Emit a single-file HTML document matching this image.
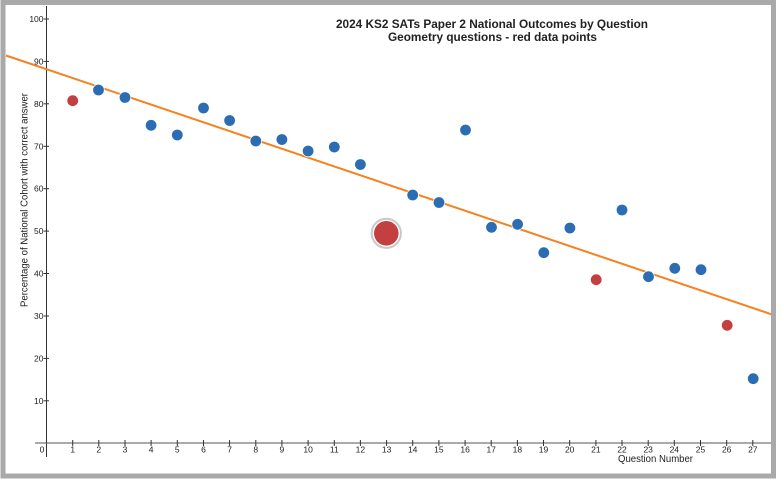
<!DOCTYPE html>
<html>
<head>
<meta charset="utf-8">
<style>
  html,body{margin:0;padding:0;background:#fff;}
  svg{display:block;}
  text{font-family:"Liberation Sans",Arial,sans-serif;fill:#222;}
</style>
</head>
<body>
<svg width="782" height="482" viewBox="0 0 782 482" xmlns="http://www.w3.org/2000/svg">
  <rect x="0" y="0" width="782" height="482" fill="#fff"/>
  <!-- frame -->
  <rect x="3" y="2.5" width="770.5" height="473.5" fill="#fff" stroke="#a9a9a9" stroke-width="5"/>

  <!-- title -->
  <text x="492" y="28" text-anchor="middle" font-size="12.2" font-weight="bold" textLength="312" lengthAdjust="spacingAndGlyphs">2024 KS2 SATs Paper 2 National Outcomes by Question</text>
  <text x="492.5" y="41" text-anchor="middle" font-size="12.2" font-weight="bold" textLength="209" lengthAdjust="spacingAndGlyphs">Geometry questions - red data points</text>

  <!-- axes -->
  <line x1="46.5" y1="6" x2="46.5" y2="457" stroke="#333" stroke-width="1"/>
  <line x1="35" y1="443" x2="771" y2="443" stroke="#555" stroke-width="1"/>

  <!-- y ticks -->
  <g stroke="#333" stroke-width="1">
    <line x1="43.5" y1="19" x2="49" y2="19"/>
    <line x1="43.5" y1="61.4" x2="49" y2="61.4"/>
    <line x1="43.5" y1="103.8" x2="49" y2="103.8"/>
    <line x1="43.5" y1="146.3" x2="49" y2="146.3"/>
    <line x1="43.5" y1="188.7" x2="49" y2="188.7"/>
    <line x1="43.5" y1="231.1" x2="49" y2="231.1"/>
    <line x1="43.5" y1="273.5" x2="49" y2="273.5"/>
    <line x1="43.5" y1="316" x2="49" y2="316"/>
    <line x1="43.5" y1="358.4" x2="49" y2="358.4"/>
    <line x1="43.5" y1="400.8" x2="49" y2="400.8"/>
  </g>
  <g font-size="8.5" text-anchor="end">
    <text x="43.5" y="22">100</text>
    <text x="43.5" y="64.4">90</text>
    <text x="43.5" y="106.8">80</text>
    <text x="43.5" y="149.3">70</text>
    <text x="43.5" y="191.7">60</text>
    <text x="43.5" y="234.1">50</text>
    <text x="43.5" y="276.5">40</text>
    <text x="43.5" y="319">30</text>
    <text x="43.5" y="361.4">20</text>
    <text x="43.5" y="403.8">10</text>
  </g>

  <!-- x ticks -->
  <g stroke="#333" stroke-width="1">
    <line x1="72.7" y1="440" x2="72.7" y2="446"/>
    <line x1="98.8" y1="440" x2="98.8" y2="446"/>
    <line x1="125" y1="440" x2="125" y2="446"/>
    <line x1="151.1" y1="440" x2="151.1" y2="446"/>
    <line x1="177.3" y1="440" x2="177.3" y2="446"/>
    <line x1="203.5" y1="440" x2="203.5" y2="446"/>
    <line x1="229.6" y1="440" x2="229.6" y2="446"/>
    <line x1="255.8" y1="440" x2="255.8" y2="446"/>
    <line x1="281.9" y1="440" x2="281.9" y2="446"/>
    <line x1="308.1" y1="440" x2="308.1" y2="446"/>
    <line x1="334.3" y1="440" x2="334.3" y2="446"/>
    <line x1="360.4" y1="440" x2="360.4" y2="446"/>
    <line x1="386.6" y1="440" x2="386.6" y2="446"/>
    <line x1="412.7" y1="440" x2="412.7" y2="446"/>
    <line x1="438.9" y1="440" x2="438.9" y2="446"/>
    <line x1="465.1" y1="440" x2="465.1" y2="446"/>
    <line x1="491.2" y1="440" x2="491.2" y2="446"/>
    <line x1="517.4" y1="440" x2="517.4" y2="446"/>
    <line x1="543.5" y1="440" x2="543.5" y2="446"/>
    <line x1="569.7" y1="440" x2="569.7" y2="446"/>
    <line x1="595.9" y1="440" x2="595.9" y2="446"/>
    <line x1="622" y1="440" x2="622" y2="446"/>
    <line x1="648.2" y1="440" x2="648.2" y2="446"/>
    <line x1="674.3" y1="440" x2="674.3" y2="446"/>
    <line x1="700.5" y1="440" x2="700.5" y2="446"/>
    <line x1="726.7" y1="440" x2="726.7" y2="446"/>
    <line x1="752.8" y1="440" x2="752.8" y2="446"/>
  </g>
  <g font-size="8.5" text-anchor="middle">
    <text x="42" y="452.5">0</text>
    <text x="72.7" y="452.5">1</text>
    <text x="98.8" y="452.5">2</text>
    <text x="125" y="452.5">3</text>
    <text x="151.1" y="452.5">4</text>
    <text x="177.3" y="452.5">5</text>
    <text x="203.5" y="452.5">6</text>
    <text x="229.6" y="452.5">7</text>
    <text x="255.8" y="452.5">8</text>
    <text x="281.9" y="452.5">9</text>
    <text x="308.1" y="452.5">10</text>
    <text x="334.3" y="452.5">11</text>
    <text x="360.4" y="452.5">12</text>
    <text x="386.6" y="452.5">13</text>
    <text x="412.7" y="452.5">14</text>
    <text x="438.9" y="452.5">15</text>
    <text x="465.1" y="452.5">16</text>
    <text x="491.2" y="452.5">17</text>
    <text x="517.4" y="452.5">18</text>
    <text x="543.5" y="452.5">19</text>
    <text x="569.7" y="452.5">20</text>
    <text x="595.9" y="452.5">21</text>
    <text x="622" y="452.5">22</text>
    <text x="648.2" y="452.5">23</text>
    <text x="674.3" y="452.5">24</text>
    <text x="700.5" y="452.5">25</text>
    <text x="726.7" y="452.5">26</text>
    <text x="752.8" y="452.5">27</text>
  </g>

  <!-- axis titles -->
  <text x="618" y="462" font-size="10" textLength="75" lengthAdjust="spacingAndGlyphs">Question Number</text>
  <text transform="translate(27.5,200) rotate(-90)" text-anchor="middle" font-size="10" textLength="214" lengthAdjust="spacingAndGlyphs">Percentage of National Cohort with correct answer</text>

  <!-- trend line -->
  <line x1="6" y1="55.5" x2="771.5" y2="314.3" stroke="#f5821f" stroke-width="2"/>

  <!-- data points -->
  <g stroke="#fff" stroke-width="0.8">
    <circle cx="72.7" cy="100.7" r="5.8" fill="#c43f3f"/>
    <circle cx="98.5" cy="90" r="5.8" fill="#2b6cb3"/>
    <circle cx="125" cy="97.5" r="5.8" fill="#2b6cb3"/>
    <circle cx="151.1" cy="125.3" r="5.8" fill="#2b6cb3"/>
    <circle cx="177.3" cy="135" r="5.8" fill="#2b6cb3"/>
    <circle cx="203.5" cy="108" r="5.8" fill="#2b6cb3"/>
    <circle cx="229.6" cy="120.5" r="5.8" fill="#2b6cb3"/>
    <circle cx="255.8" cy="141" r="5.8" fill="#2b6cb3"/>
    <circle cx="281.9" cy="139.5" r="5.8" fill="#2b6cb3"/>
    <circle cx="308.1" cy="151" r="5.8" fill="#2b6cb3"/>
    <circle cx="334.3" cy="147" r="5.8" fill="#2b6cb3"/>
    <circle cx="360.4" cy="164.5" r="5.8" fill="#2b6cb3"/>
    <circle cx="412.7" cy="195" r="5.8" fill="#2b6cb3"/>
    <circle cx="439" cy="202.5" r="5.8" fill="#2b6cb3"/>
    <circle cx="465.5" cy="130" r="5.8" fill="#2b6cb3"/>
    <circle cx="491.5" cy="227.3" r="5.8" fill="#2b6cb3"/>
    <circle cx="517.6" cy="224.3" r="5.8" fill="#2b6cb3"/>
    <circle cx="543.8" cy="252.7" r="5.8" fill="#2b6cb3"/>
    <circle cx="569.9" cy="228" r="5.8" fill="#2b6cb3"/>
    <circle cx="596.2" cy="279.7" r="5.8" fill="#c43f3f"/>
    <circle cx="622" cy="210" r="5.8" fill="#2b6cb3"/>
    <circle cx="648.5" cy="276.7" r="5.8" fill="#2b6cb3"/>
    <circle cx="674.8" cy="268.3" r="5.8" fill="#2b6cb3"/>
    <circle cx="701" cy="269.7" r="5.8" fill="#2b6cb3"/>
    <circle cx="727.2" cy="325.3" r="5.8" fill="#c43f3f"/>
    <circle cx="753.2" cy="378.7" r="5.8" fill="#2b6cb3"/>
  </g>
  <!-- highlighted Q13 -->
  <circle cx="386.3" cy="233.3" r="14.6" fill="#fff" stroke="#c9c9c9" stroke-width="2"/>
  <circle cx="386.3" cy="233.3" r="12.3" fill="#c43f3f"/>
</svg>
</body>
</html>
